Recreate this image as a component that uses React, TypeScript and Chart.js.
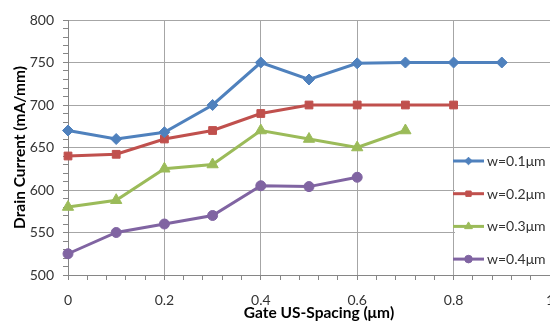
import React, { useEffect, useRef } from "react";
import { Chart, registerables } from "chart.js";

Chart.register(...registerables);

const spacing = [0, 0.1, 0.2, 0.3, 0.4, 0.5, 0.6, 0.7, 0.8, 0.9];
const seriesLabels = ["w=0.1μm", "w=0.2μm", "w=0.3μm", "w=0.4μm"];
const w01 = [670, 660, 668, 700, 750, 730, 749, 750, 750, 750];
const w02 = [640, 642, 660, 670, 690, 700, 700, 700, 700];
const w03 = [580, 588, 625, 630, 670, 660, 650, 670];
const w04 = [525, 550, 560, 570, 605, 604, 615];
const xTitle = "Gate US-Spacing (μm)";
const yTitle = "Drain Current (mA/mm)";

const colors = ["#4F81BD", "#C0504D", "#9BBB59", "#8064A2"];
const pointStyles = ["rectRot", "rect", "triangle", "circle"];
const pointRadii = [5.5, 5.5, 6.5, 5];
const legendRadii = [3.8, 3.8, 4.5, 3.8];

const FONT = "Lato, 'Open Sans', sans-serif";
const TEXT = "#333333";
const GRID = "#a6a6a6";
const AXIS = "#868686";

const isMajorX = (v: number) => Math.abs(v * 5 - Math.round(v * 5)) < 1e-6;
const isMajorY = (v: number) => Math.abs(v / 50 - Math.round(v / 50)) < 1e-6;

function drawMarker(ctx: CanvasRenderingContext2D, style: string, x: number, y: number, r: number) {
  ctx.beginPath();
  if (style === "rectRot") {
    ctx.moveTo(x, y - r);
    ctx.lineTo(x + r, y);
    ctx.lineTo(x, y + r);
    ctx.lineTo(x - r, y);
    ctx.closePath();
  } else if (style === "rect") {
    const s = Math.SQRT1_2 * r;
    ctx.rect(x - s, y - s, 2 * s, 2 * s);
  } else if (style === "triangle") {
    for (let k = 0; k < 3; k++) {
      const a = (k * 2 * Math.PI) / 3;
      const px = x + Math.sin(a) * r;
      const py = y - Math.cos(a) * r;
      if (k === 0) ctx.moveTo(px, py);
      else ctx.lineTo(px, py);
    }
    ctx.closePath();
  } else {
    ctx.arc(x, y, r, 0, Math.PI * 2);
  }
  ctx.fill();
  ctx.stroke();
}

const overlayPlugin = {
  id: "overlay",
  afterDraw(chart: any) {
    const ctx = chart.ctx;
    const area = chart.chartArea;
    ctx.save();
    // legend
    ctx.fillStyle = "#ffffff";
    ctx.fillRect(455, 149, 100, 124);
    const x0 = 453;
    const x1 = 484;
    chart.data.datasets.forEach((ds: any, i: number) => {
      const y = 161 + i * 32.7;
      ctx.strokeStyle = ds.borderColor;
      ctx.lineWidth = 3;
      ctx.beginPath();
      ctx.moveTo(x0, y);
      ctx.lineTo(x1, y);
      ctx.stroke();
      ctx.fillStyle = ds.borderColor;
      ctx.lineWidth = 1;
      drawMarker(ctx, pointStyles[i], (x0 + x1) / 2, y, legendRadii[i]);
      ctx.fillStyle = TEXT;
      ctx.font = `14px ${FONT}`;
      ctx.textAlign = "left";
      ctx.textBaseline = "middle";
      ctx.fillText(ds.label, 487, y + 0.5);
    });
    // axis titles
    ctx.fillStyle = "#000000";
    ctx.font = `bold 15.5px ${FONT}`;
    ctx.textAlign = "center";
    ctx.textBaseline = "middle";
    ctx.fillText(xTitle, area.left + 251, 312.5);
    ctx.translate(19.5, (area.top + area.bottom) / 2);
    ctx.rotate(-Math.PI / 2);
    ctx.fillText(yTitle, 0, 0);
    ctx.restore();
  },
};

export default function App() {
  const ref = useRef<HTMLCanvasElement | null>(null);

  useEffect(() => {
    if (!ref.current) return;
    const series = [w01, w02, w03, w04];
    const chart = new Chart(ref.current, {
      type: "line",
      data: {
        datasets: series.map((vals, i) => ({
          label: seriesLabels[i],
          data: vals.map((v, j) => ({ x: spacing[j], y: v })),
          borderColor: colors[i],
          backgroundColor: colors[i],
          borderWidth: 3,
          pointStyle: pointStyles[i] as any,
          pointRadius: pointRadii[i],
          pointBorderWidth: 1,
          pointBorderColor: colors[i],
          pointBackgroundColor: colors[i],
          tension: 0,
          clip: false as any,
        })),
      },
      plugins: [overlayPlugin],
      options: {
        animation: false,
        responsive: false,
        events: [],
        layout: { autoPadding: false, padding: { top: 20, left: 0, right: 0, bottom: 0 } },
        plugins: {
          legend: { display: false },
          tooltip: { enabled: false },
        },
        scales: {
          x: {
            type: "linear",
            min: 0,
            max: 1,
            afterFit(scale: any) {
              scale.paddingRight = 0;
              scale.paddingLeft = 0;
              scale.height = 47;
            },
            border: { color: AXIS, width: 1 },
            grid: {
              color: (c: any) => (isMajorX(c.tick.value) ? GRID : "rgba(0,0,0,0)"),
              tickColor: AXIS,
              tickLength: 5,
            },
            ticks: {
              stepSize: 0.04,
              autoSkip: false,
              maxRotation: 0,
              padding: 12,
              color: TEXT,
              font: { family: FONT, size: 14 },
              callback: (v: any) => (isMajorX(Number(v)) ? String(Math.round(Number(v) * 10) / 10) : ""),
            },
          },
          y: {
            type: "linear",
            min: 500,
            max: 800,
            afterFit(scale: any) {
              scale.paddingTop = 0;
              scale.paddingBottom = 0;
              scale.width = 68;
            },
            border: { color: AXIS, width: 1 },
            grid: {
              color: (c: any) => (isMajorY(c.tick.value) ? GRID : "rgba(0,0,0,0)"),
              tickColor: AXIS,
              tickLength: 5,
            },
            ticks: {
              stepSize: 10,
              autoSkip: false,
              padding: 9,
              color: TEXT,
              font: { family: FONT, size: 14 },
              callback: (v: any) => (isMajorY(Number(v)) ? String(v) : ""),
            },
          },
        },
      },
    });
    return () => chart.destroy();
  }, []);

  return (
    <div style={{ position: "fixed", left: 0, top: 0, width: 550, height: 322, overflow: "hidden", background: "#fff" }}>
      <canvas ref={ref} width={550} height={322} style={{ display: "block" }} />
    </div>
  );
}
